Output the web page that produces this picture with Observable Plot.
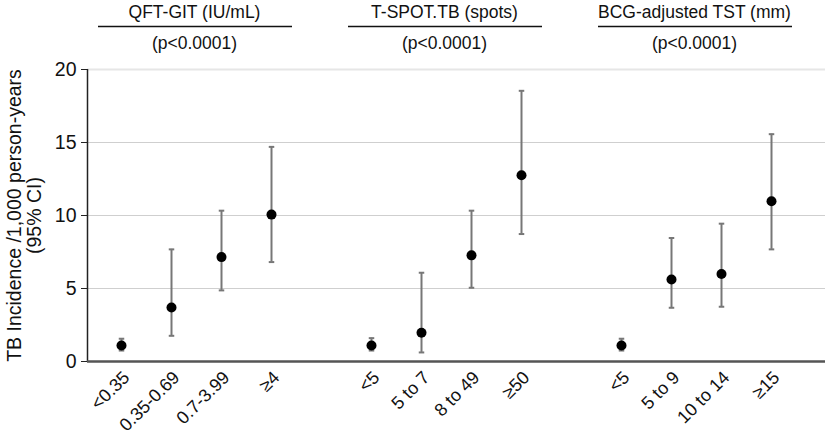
<!DOCTYPE html>
<html>
<head>
<meta charset="utf-8">
<script src="https://cdn.jsdelivr.net/npm/d3@7"></script>
<script src="https://cdn.jsdelivr.net/npm/@observablehq/plot@0.6"></script>
<style>
  html, body { margin: 0; padding: 0; background: #fff; }
  #chart { width: 825px; height: 440px; }
</style>
</head>
<body>
<div id="chart"></div>
<script>
// ---- data ----
const groups = ["QFT-GIT (IU/mL)", "T-SPOT.TB (spots)", "BCG-adjusted TST (mm)"];
const pValues = ["(p<0.0001)", "(p<0.0001)", "(p<0.0001)"];
const categories = [
  ["<0.35", "0.35-0.69", "0.7-3.99", "\u22654"],
  ["<5", "5 to 7", "8 to 49", "\u226550"],
  ["<5", "5 to 9", "10 to 14", "\u226515"]
];
const incidence = [
  [1.10, 3.70, 7.15, 10.06],
  [1.10, 1.97, 7.27, 12.76],
  [1.10, 5.62, 5.99, 10.97]
];
const ciLow = [
  [0.75, 1.76, 4.87, 6.81],
  [0.75, 0.62, 5.05, 8.73],
  [0.75, 3.68, 3.75, 7.68]
];
const ciHigh = [
  [1.56, 7.68, 10.33, 14.70],
  [1.60, 6.08, 10.33, 18.54],
  [1.56, 8.46, 9.44, 15.57]
];
const yTicks = [0, 5, 10, 15, 20];
const yLabel = "TB Incidence /1,000 person-years\n(95% CI)";

// ---- build table (slot index: 4 categories per group + one empty slot) ----
const rows = [];
const tickIndex = [], tickText = {};
const headers = [];
groups.forEach((g, gi) => {
  categories[gi].forEach((c, ci) => {
    const i = gi * 5 + ci;
    rows.push({i, cat: c, v: incidence[gi][ci], lo: ciLow[gi][ci], hi: ciHigh[gi][ci]});
    tickIndex.push(i);
    tickText[i] = c;
  });
  const first = gi * 5, last = gi * 5 + categories[gi].length - 1;
  headers.push({title: g, p: pValues[gi], x1: first - 0.46, x2: last + 0.42, xc: (first + last) / 2 - 0.04});
});

const xDomain = [-0.68, 14.08];
const yDomain = [0, 20];
const font = "'Liberation Sans', Arial, Helvetica, sans-serif";

const chart = Plot.plot({
  width: 825,
  height: 440,
  marginLeft: 87,
  marginRight: 0,
  marginTop: 69,
  marginBottom: 79,
  style: {fontFamily: font, background: "#fff", color: "#111"},
  x: {type: "linear", domain: xDomain},
  y: {domain: yDomain},
  marks: [
    // grid
    Plot.ruleY(yTicks.filter(t => t > yDomain[0] && t < yDomain[1]), {stroke: "#cfcfcf", strokeWidth: 1}),
    Plot.ruleY([yDomain[1]], {stroke: "#e6e6e6", strokeWidth: 2}),
    // axes
    Plot.axisY({ticks: yTicks, tickSize: 6, tickPadding: 5, fontSize: 19.5, stroke: "#222",
      label: yLabel, labelAnchor: "center", labelOffset: 80, labelArrow: "none"}),
    Plot.axisX({ticks: tickIndex, tickFormat: d => tickText[d] ?? "", tickRotate: -45, tickSize: 0,
      tickPadding: 13, dx: 5, fontSize: 18, label: null}),
    Plot.ruleX([xDomain[0]], {y1: yDomain[0], y2: yDomain[1], stroke: "#222", strokeWidth: 1.5}),
    Plot.ruleY([yDomain[0]], {stroke: "#555", strokeWidth: 2.5}),
    // error bars
    Plot.ruleX(rows, {x: "i", y1: "lo", y2: "hi", stroke: "#777", strokeWidth: 2}),
    Plot.link(rows, {x1: d => d.i - 0.055, x2: d => d.i + 0.055, y1: "lo", y2: "lo", stroke: "#777", strokeWidth: 2}),
    Plot.link(rows, {x1: d => d.i - 0.055, x2: d => d.i + 0.055, y1: "hi", y2: "hi", stroke: "#777", strokeWidth: 2}),
    // points
    Plot.dot(rows, {x: "i", y: "v", r: 5, fill: "#000", stroke: "none"}),
    // group headers
    Plot.text(headers, {x: "xc", text: "title", frameAnchor: "top", dy: -64, fontSize: 17.5, fill: "#111"}),
    Plot.text(headers, {x: "xc", text: "p", frameAnchor: "top", dy: -32.5, fontSize: 17.5, fill: "#111"}),
    Plot.ruleY(headers, {y: () => yDomain[1], x1: "x1", x2: "x2", dy: -43, stroke: "#111", strokeWidth: 1.5})
  ]
});
document.getElementById("chart").appendChild(chart);
</script>
</body>
</html>
